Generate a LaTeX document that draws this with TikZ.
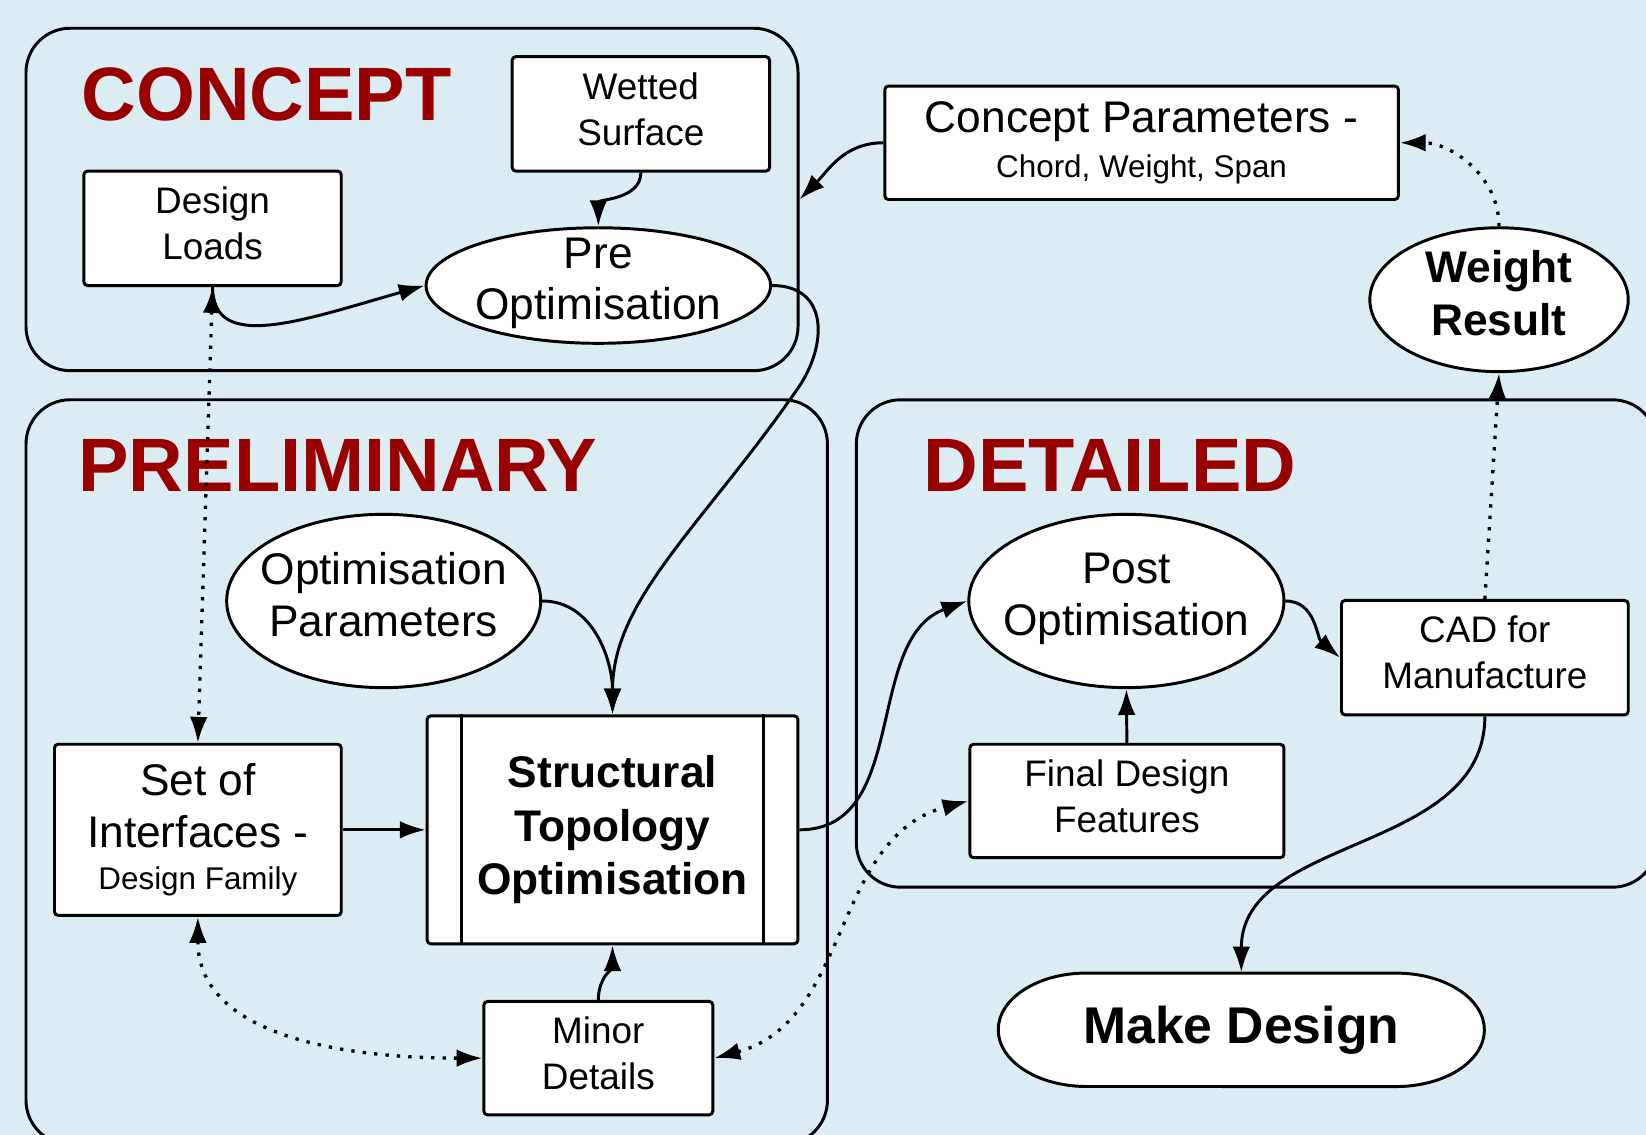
\documentclass[tikz,border=0pt]{standalone}
\usepackage{fontspec}
\setmainfont{Liberation Sans}
\usepackage{xcolor}
\usepackage{tikz}
\usetikzlibrary{positioning,shapes,arrows.meta}
\definecolor{bgblue}{RGB}{219,236,242}
\definecolor{titlered}{RGB}{153,0,0}

\begin{document}
\begin{tikzpicture}[x=0.01cm, y=0.01cm, >={Latex[length=7pt,width=4.8pt]},
  group/.style={draw, line width=0.8pt, rounded corners=0.42cm},
  title/.style={anchor=base west, inner sep=0pt, text=titlered, font=\fontsize{20.5}{24}\selectfont\bfseries},
  box/.style={draw, fill=white, line width=0.8pt, rounded corners=1pt, align=center, inner sep=0pt},
  oval/.style={ellipse, draw, fill=white, line width=0.8pt, align=center, inner xsep=-0.12cm, inner ysep=0pt, text depth=3.7pt},
  big/.style={font=\fontsize{12}{14}\selectfont},
  bold/.style={font=\fontsize{12}{14.5}\selectfont\bfseries},
  small/.style={font=\fontsize{10}{12.5}\selectfont, text depth=2.8pt},
  arr/.style={->, line width=0.8pt},
  dotline/.style={line width=0.9pt, dash pattern=on 0.9pt off 2.2pt}]

  % Background
  \path[use as bounding box, fill=bgblue] (0,0) rectangle (1568,-1081);
  \clip (0,0) rectangle (1568,-1081);

  % Groups
  \node[group, minimum width=7.35cm, minimum height=3.26cm] (concept) at (392.5,-190) {};
  \node[group, minimum width=7.63cm, minimum height=7.09cm] (prelim) at (406.5,-735.5) {};
  \node[group, minimum width=7.62cm, minimum height=4.64cm] (detailed) at (1197,-613) {};
  \node[title] (concepttitle) at (77,-115) {CONCEPT};
  \node[title] (prelimtitle) at (74,-468) {PRELIMINARY};
  \node[title] (detailedtitle) at (879,-468) {DETAILED};

  % Nodes
  \node[box, small, minimum width=2.45cm, minimum height=1.09cm] (wetted) at (610.5,-108.5) {Wetted\\Surface};
  \node[box, small, minimum width=2.45cm, minimum height=1.09cm] (loads) at (202.5,-217.5) {Design\\Loads};
  \node[oval, big, inner ysep=-0.1cm, minimum width=3.28cm, minimum height=1.10cm] (pre) at (570,-272) {Pre\\Optimisation};
  \node[box, big, minimum width=4.89cm, minimum height=1.08cm] (cparams) at (1087.5,-136) {Concept Parameters -\\[-1.7pt]{\fontsize{8.5}{10}\selectfont Chord, Weight, Span}};
  \node[oval, bold, minimum width=2.46cm, minimum height=1.37cm] (weight) at (1428,-285.5) {Weight\\Result};
  \node[oval, big, minimum width=2.99cm, minimum height=1.65cm] (optparams) at (365.5,-572.5) {Optimisation\\Parameters};
  \node[box, big, minimum width=2.73cm, minimum height=1.63cm] (interfaces) at (188.5,-790.5) {Set of\\Interfaces -\\[-2.5pt]{\fontsize{8.5}{10}\selectfont Design Family}};
  \node[box, bold, minimum width=3.53cm, minimum height=2.17cm] (sto) at (583.5,-790.5) {Structural\\Topology\\Optimisation};
  \draw[line width=0.8pt] ([xshift=0.34cm]sto.north west) -- ([xshift=0.34cm]sto.south west);
  \draw[line width=0.8pt] ([xshift=-0.34cm]sto.north east) -- ([xshift=-0.34cm]sto.south east);
  \node[box, small, minimum width=2.18cm, minimum height=1.08cm] (minor) at (570,-1008) {Minor\\Details};
  \node[oval, big, minimum width=3.00cm, minimum height=1.65cm] (post) at (1073,-572.5) {Post\\Optimisation};
  \node[box, small, minimum width=2.73cm, minimum height=1.09cm] (cad) at (1414.5,-626.5) {CAD for\\Manufacture};
  \node[box, small, minimum width=2.99cm, minimum height=1.08cm] (final) at (1073.5,-763) {Final Design\\Features};
  \draw[line width=0.8pt, fill=white] (1035,-927) -- (1330,-927) arc[start angle=90, end angle=-90, x radius=0.84cm, y radius=0.54cm]
    -- (1035,-1035) arc[start angle=270, end angle=90, x radius=0.84cm, y radius=0.54cm] -- cycle;
  \node[font=\fontsize{14}{16}\selectfont\bfseries, minimum width=4.63cm, minimum height=1.08cm] (make) at (1182.5,-981) {Make Design};

  % Edges
  \draw[arr] (wetted.south) to[out=-90, in=90] (pre.north);
  \draw[arr] (loads.south) .. controls +(0,-63) and +(-116,-33) .. (pre.west);
  \draw[arr] (pre.east) .. controls +(55,0) and +(28,40) .. (760,-370) .. controls +(-90,-130) and +(0,110) .. (sto.north);
  \draw[arr] (optparams.east) to[out=0, in=90] (sto.north);
  \draw[arr] (interfaces.east) -- (sto.west);
  \draw[arr] (minor.north) to[out=90, in=-90] (sto.south);
  \draw[arr] (sto.east) to[out=0, in=200] (post.west);
  \draw[arr] (final.north) -- (post.south);
  \draw[arr] (post.east) to[out=0, in=140] (cad.west);
  \draw[arr] (cad.south) to[out=-90, in=90] (make.north);
  \draw[arr] (cparams.west) to[out=180, in=45] (concept.east);
  \draw[dotline, <->] (loads.south) -- (interfaces.north);
  \draw[dotline, <->] (interfaces.south) to[out=-90, in=180] (minor.west);
  \draw[dotline, <->] (minor.east) to[out=15, in=195] (final.west);
  \draw[dotline, ->] (cad.north) -- (weight.south);
  \draw[dotline, ->] (weight.north) to[out=90, in=0] (cparams.east);
\end{tikzpicture}
\end{document}
